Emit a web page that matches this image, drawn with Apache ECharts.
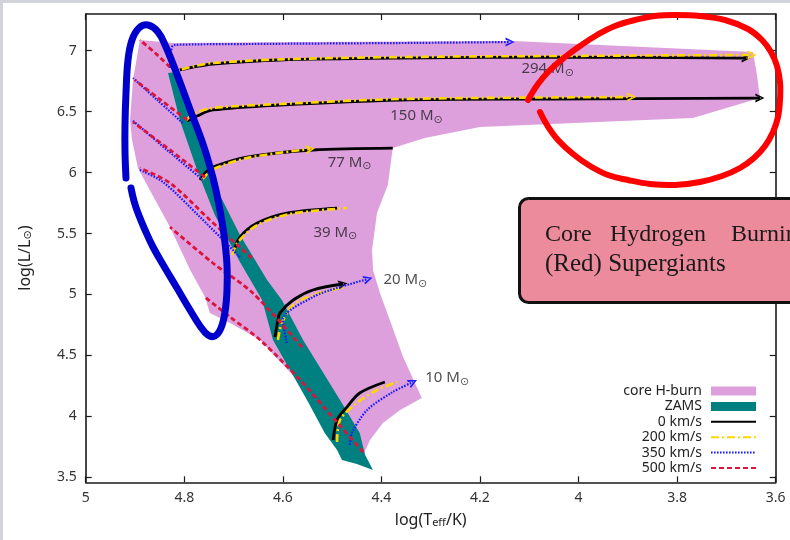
<!DOCTYPE html>
<html><head><meta charset="utf-8">
<script src="https://cdn.jsdelivr.net/npm/echarts@6/dist/echarts.min.js"></script>
<style>html,body{margin:0;padding:0;background:#fff}#c{width:790px;height:540px}</style>
</head><body><div id="c"></div>
<script>
const FONT = "'Noto Sans', 'DejaVu Sans', sans-serif";
const SERIF = "'Liberation Serif', 'DejaVu Serif', serif";

// ---------- data ----------
const xTicks = [5, 4.8, 4.6, 4.4, 4.2, 4, 3.8, 3.6];
const yTicks = [3.5, 4, 4.5, 5, 5.5, 6, 6.5, 7];
const velocityNames = ['0 km/s', '200 km/s', '350 km/s', '500 km/s'];
const massNames = ['294', '150', '77', '39', '20', '10'];
const massLabelPos = [[4.117,6.849],[4.383,6.464],[4.510,6.082],[4.539,5.508],[4.397,5.119],[4.312,4.315]];

const coreHBurn = [[4.823,7.062],[4.565,7.070],[4.133,7.079],[3.646,6.988],[3.638,6.800],[3.632,6.611],[3.768,6.447],[4.200,6.373],[4.312,6.283],[4.377,6.201],[4.387,5.898],[4.409,5.668],[4.419,5.365],[4.417,5.201],[4.403,5.012],[4.383,4.791],[4.356,4.487],[4.318,4.151],[4.362,4.053],[4.397,3.946],[4.423,3.807],[4.437,3.684],[4.448,3.626],[4.474,3.659],[4.504,3.889],[4.571,4.299],[4.646,4.627],[4.707,4.766],[4.748,4.848],[4.758,4.979],[4.788,5.201],[4.829,5.553],[4.870,5.857],[4.894,6.037],[4.906,6.267],[4.910,6.431],[4.904,6.759],[4.890,7.087]];
const zams = [[4.833,6.816],[4.809,6.431],[4.774,6.021],[4.738,5.652],[4.687,5.266],[4.642,4.955],[4.620,4.627],[4.551,4.135],[4.515,3.864],[4.490,3.725],[4.480,3.643],[4.450,3.610],[4.417,3.561],[4.433,3.684],[4.444,3.864],[4.484,4.135],[4.559,4.627],[4.602,4.955],[4.632,5.119],[4.687,5.488],[4.738,5.898],[4.754,6.185],[4.784,6.513],[4.815,6.824]];

const m294_v0   = [[4.809,6.841],[4.782,6.865],[4.742,6.890],[4.606,6.923],[4.362,6.939],[4.038,6.947],[3.660,6.939]];
const m294_v200 = [[4.805,6.845],[4.780,6.872],[4.742,6.898],[4.606,6.928],[4.362,6.947],[4.038,6.956],[3.648,6.964]];
const m294_v350 = [[4.829,6.857],[4.827,6.988],[4.821,7.046],[4.667,7.054],[4.362,7.062],[4.139,7.070]];
const m294_v500 = [[4.829,6.865],[4.859,6.980],[4.890,7.087]];

const m150_v0   = [[4.794,6.423],[4.774,6.464],[4.742,6.513],[4.606,6.554],[4.362,6.595],[4.058,6.603],[3.632,6.611]];
const m150_v200 = [[4.796,6.431],[4.778,6.488],[4.742,6.529],[4.606,6.562],[4.362,6.603],[3.892,6.619]];
const m150_v350 = [[4.803,6.406],[4.855,6.595],[4.904,6.775]];
const m150_v500 = [[4.794,6.431],[4.853,6.611],[4.900,6.759]];

const m77_v0    = [[4.768,5.939],[4.758,5.996],[4.742,6.045],[4.673,6.127],[4.539,6.185],[4.377,6.201]];
const m77_v200  = [[4.764,5.939],[4.744,6.021],[4.673,6.119],[4.544,6.193]];
const m77_v350  = [[4.762,5.939],[4.835,6.185],[4.906,6.431]];
const m77_v500  = [[4.758,5.963],[4.829,6.185],[4.904,6.414]];

const m39_v0    = [[4.701,5.340],[4.687,5.471],[4.652,5.586],[4.592,5.668],[4.490,5.709]];
const m39_v200  = [[4.703,5.324],[4.691,5.430],[4.652,5.570],[4.586,5.660],[4.470,5.709]];
const m39_v350  = [[4.687,5.307],[4.768,5.635],[4.843,5.922],[4.890,6.021]];
const m39_v500  = [[4.663,5.299],[4.748,5.611],[4.829,5.914],[4.890,6.037]];

const m20_v0    = [[4.616,4.651],[4.610,4.791],[4.606,4.848],[4.579,4.955],[4.539,5.037],[4.478,5.086]];
const m20_v200  = [[4.610,4.627],[4.602,4.766],[4.579,4.914],[4.539,4.996],[4.474,5.061]];
const m20_v350  = [[4.592,4.602],[4.600,4.791],[4.539,4.979],[4.484,5.061],[4.427,5.127]];
const m20_v500  = [[4.561,4.569],[4.661,5.012],[4.742,5.258],[4.829,5.553]];

const m10_v0    = [[4.498,3.807],[4.490,3.971],[4.470,4.077],[4.444,4.192],[4.393,4.282]];
const m10_v200  = [[4.490,3.790],[4.484,3.971],[4.450,4.110],[4.409,4.217],[4.368,4.282]];
const m10_v350  = [[4.464,3.766],[4.460,3.864],[4.429,4.053],[4.377,4.200],[4.336,4.282]];
const m10_v500  = [[4.437,3.708],[4.494,3.971],[4.565,4.299],[4.646,4.627],[4.707,4.815],[4.758,4.979]];

// ---------- styling / assembly ----------
const trackSets = [
  [m294_v0, m150_v0, m77_v0, m39_v0, m20_v0, m10_v0],
  [m294_v200, m150_v200, m77_v200, m39_v200, m20_v200, m10_v200],
  [m294_v350, m150_v350, m77_v350, m39_v350, m20_v350, m10_v350],
  [m294_v500, m150_v500, m77_v500, m39_v500, m20_v500, m10_v500]
];
const lineStyles = [
  {color:'#000000', width:2.8, type:'solid'},
  {color:'#ffd700', width:2.6, type:[8,3,2,3]},
  {color:'#1a1aff', width:2.2, type:[1.6,1.4]},
  {color:'#dc143c', width:2.8, type:[5,3]}
];
const arrowEnds = {'0-0':0,'0-1':0,'0-4':11,'1-0':0,'1-1':0,'1-2':8,'2-0':0,'2-4':16,'2-5':26};
const ARROW = 'path://M0,0L10,5L0,10L0,7.6L6.8,5L0,2.4Z';

function polyRender(pts, fill) {
  return function (params, api) {
    if (params.dataIndex !== 0) return null;
    return { type:'polygon', shape:{ points: pts.map(p => api.coord(p)) }, style:{ fill: fill } };
  };
}

const series = [
  { type:'custom', name:'core H-burn', data: coreHBurn, renderItem: polyRender(coreHBurn, '#dda0dd'),
    itemStyle:{color:'#dda0dd'}, encode:{x:0,y:1}, z:1, silent:true },
  { type:'custom', name:'ZAMS', data: zams, renderItem: polyRender(zams, '#008080'),
    itemStyle:{color:'#008080'}, encode:{x:0,y:1}, z:2, silent:true }
];
trackSets.forEach((set, vi) => set.forEach((pts, mi) => {
  const key = vi + '-' + mi;
  const data = pts.map((p, i) => (i === pts.length - 1 && key in arrowEnds)
    ? {value:p, symbol:ARROW, symbolSize:9, symbolRotate:arrowEnds[key]} : p);
  series.push({ type:'line', name: velocityNames[vi], data, symbol:'none', smooth:0.3,
    lineStyle: lineStyles[vi], itemStyle:{color: lineStyles[vi].color, borderWidth:0},
    z: 3 + vi, silent:true });
}));
series.push({ type:'scatter', name:'labels', symbolSize:1, itemStyle:{color:'rgba(0,0,0,0)'}, z:10, silent:true,
  data: massLabelPos.map((p, i) => ({value:p, name: massNames[i]})),
  label:{ show:true, position:'right', distance:0,
    formatter: p => '{n|' + p.name + ' M}{s|⊙}',
    rich:{ n:{fontSize:15, color:'#222', fontFamily:FONT, lineHeight:18},
           s:{fontSize:11, color:'#222', fontFamily:FONT, lineHeight:11, verticalAlign:'bottom'} } } });

const axisLineS = {show:true, onZero:false, lineStyle:{color:'#1a1a1a', width:1.6}};
const tickS = {color:'#1a1a1a', width:1.2};
const hiddenSymbol = {opacity:0};

const option = {
  animation:false,
  backgroundColor:'#ffffff',
  grid:{left:85.7, right:14.3, top:14, bottom:57.7, containLabel:false},
  xAxis:[
    { type:'value', position:'bottom', inverse:true, min:3.6, max:5,
      axisLine:axisLineS, splitLine:{show:false},
      axisTick:{show:true, inside:true, length:6, customValues:xTicks, lineStyle:tickS},
      axisLabel:{customValues:xTicks, color:'#333', fontSize:14, fontFamily:FONT, margin:9},
      name:'log(T{s|eff}/K)', nameLocation:'middle', nameGap:30,
      nameTextStyle:{fontSize:16, color:'#222', fontFamily:FONT,
        rich:{s:{fontSize:11, color:'#222', fontFamily:FONT, verticalAlign:'bottom', lineHeight:10}}} },
    { type:'value', position:'top', inverse:true, min:3.6, max:5,
      axisLine:axisLineS, splitLine:{show:false},
      axisTick:{show:true, inside:true, length:6, customValues:xTicks, lineStyle:tickS},
      axisLabel:{show:false} }
  ],
  yAxis:[
    { type:'value', position:'left', min:3.46, max:7.3,
      axisLine:axisLineS, splitLine:{show:false},
      axisTick:{show:true, inside:true, length:6, customValues:yTicks, lineStyle:tickS},
      axisLabel:{customValues:yTicks, color:'#333', fontSize:14, fontFamily:FONT, margin:9},
      name:'log(L/L{s|⊙})', nameLocation:'middle', nameGap:52,
      nameTextStyle:{fontSize:16, color:'#222', fontFamily:FONT, padding:[0,20,0,0],
        rich:{s:{fontSize:11, color:'#222', fontFamily:FONT, verticalAlign:'bottom', lineHeight:10}}} },
    { type:'value', position:'right', min:3.46, max:7.3,
      axisLine:axisLineS, splitLine:{show:false},
      axisTick:{show:true, inside:true, length:6, customValues:yTicks, lineStyle:tickS},
      axisLabel:{show:false} }
  ],
  legend:{ orient:'vertical', right:33, top:384, align:'right', padding:0,
    itemWidth:45, itemHeight:9, itemGap:1.4, selectedMode:false,
    textStyle:{fontSize:14, color:'#222', fontFamily:FONT, lineHeight:13, padding:[0,4,0,0]},
    data:[{name:'core H-burn', icon:'rect'}, {name:'ZAMS', icon:'rect'}]
      .concat(velocityNames.map(n => ({name:n, itemStyle:hiddenSymbol}))) },
  series: series,
  graphic:[
    {type:'rect', z:200, shape:{x:0,y:0,width:790,height:3}, style:{fill:'#d3d3db'}},
    {type:'rect', z:200, shape:{x:0,y:0,width:3,height:540}, style:{fill:'#d3d3db'}},
    {type:'polyline', z:150, shape:{smooth:0.4, points:[[131,188],[134,201],[138,213],[145,230],[153,247],[165,268],[177,288],[190,310],[200,326],[208,335],[215,336],[221,328],[225,312],[227,290],[227,265],[224,235],[219,205],[213,178],[204,147],[191,112],[178,77],[166,47],[158,32],[148,25],[139,28],[132,40],[128,60],[126,93],[125,125],[125,152],[126,178]]},
      style:{stroke:'#0000cc', lineWidth:7, fill:'none', lineCap:'round', lineJoin:'round'}},
    {type:'polyline', z:150, shape:{smooth:0.4, points:[[528,100],[538,84],[550,70],[565,57],[580,46],[597,35],[615,26],[635,20],[655,16],[675,15],[700,16],[725,20],[748,29],[762,40],[771,52],[777,66],[780,82],[780,100],[778,117],[773,132],[765,146],[754,158],[740,168],[722,176],[700,182],[675,185],[650,184],[628,180],[608,175],[590,166],[573,154],[558,140],[547,125],[540,112]]},
      style:{stroke:'#ff0000', lineWidth:6, fill:'none', lineCap:'round', lineJoin:'round'}},
    {type:'rect', z:160, shape:{x:519.5, y:198.5, width:400, height:104, r:9}, style:{fill:'#ec8b9b', stroke:'#111', lineWidth:3}},
    {type:'text', z:161, x:545, y:235, style:{text:'Core', font:'24px ' + SERIF, fill:'#1a1a1a', verticalAlign:'middle'}},
    {type:'text', z:161, x:610, y:235, style:{text:'Hydrogen', font:'24px ' + SERIF, fill:'#1a1a1a', verticalAlign:'middle'}},
    {type:'text', z:161, x:731, y:235, style:{text:'Burning', font:'24px ' + SERIF, fill:'#1a1a1a', verticalAlign:'middle'}},
    {type:'text', z:161, x:545, y:264, style:{text:'(Red) Supergiants', font:'25px ' + SERIF, fill:'#1a1a1a', verticalAlign:'middle'}}
  ]
};
const chart = echarts.init(document.getElementById('c'), null, {renderer:'canvas'});
chart.setOption(option);
</script></body></html>
